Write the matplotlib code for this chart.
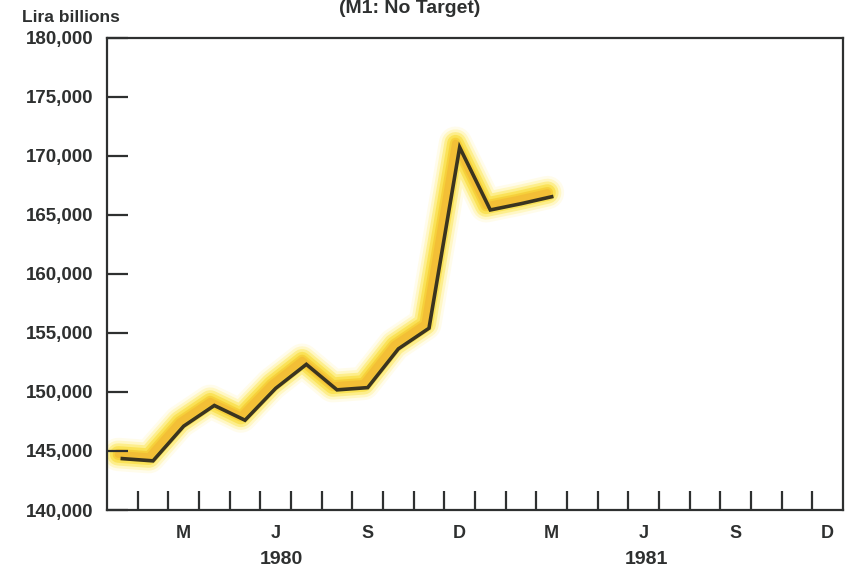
import numpy as np
import matplotlib
matplotlib.use("Agg")
import matplotlib.pyplot as plt
from matplotlib.transforms import offset_copy

plt.rcParams['font.family'] = ['Liberation Sans', 'DejaVu Sans']

# ---- data ----
months = ["Jan 1980", "Feb 1980", "Mar 1980", "Apr 1980", "May 1980", "Jun 1980",
          "Jul 1980", "Aug 1980", "Sep 1980", "Oct 1980", "Nov 1980", "Dec 1980",
          "Jan 1981", "Feb 1981", "Mar 1981"]
m1_values = [144350, 144160, 147100, 148850, 147600, 150300,
             152330, 150170, 150360, 153640, 155390, 170700,
             165400, 165930, 166520]
y_ticks = [140000, 145000, 150000, 155000, 160000, 165000, 170000, 175000, 180000]
quarter_labels = ["M", "J", "S", "D", "M", "J", "S", "D"]
quarter_month_index = [2, 5, 8, 11, 14, 17, 20, 23]
year_labels = ["1980", "1981"]
year_label_pos = [5.7, 17.6]
n_months_axis = 24

TXT = "#2e3030"
fig = plt.figure(figsize=(8.47, 5.72), dpi=100)
ax = fig.add_axes([107/847, 1 - 510/572, (843 - 107)/847, (510 - 37.5)/572])

x = np.arange(len(m1_values)) + 0.5

# soft highlighter glow (shifted slightly up-left like the marker stroke)
glow_tr = offset_copy(ax.transData, fig=fig, x=-3, y=3, units='points')
for lw, col, a in [(24, "#fff4b0", 0.25), (20, "#ffec70", 0.30), (16, "#fbe030", 0.38),
                   (12, "#f8d418", 0.45), (8, "#f4c020", 0.50), (5, "#f0ac30", 0.45)]:
    ax.plot(x, m1_values, color=col, lw=lw, alpha=a, solid_capstyle='round',
            solid_joinstyle='round', transform=glow_tr, zorder=1)
# ink line
ax.plot(x, m1_values, color="#3a3420", lw=2.6, solid_joinstyle='miter', zorder=5)

ax.set_xlim(0, n_months_axis)
ax.set_ylim(140000, 180000)

for s in ax.spines.values():
    s.set_color(TXT)
    s.set_linewidth(1.6)

ax.set_yticks(y_ticks)
ax.set_yticklabels([f"{v:,}" for v in y_ticks], fontsize=13.5, fontweight='bold', color=TXT)
ax.tick_params(axis='y', direction='in', length=15, width=1.6, color=TXT, pad=10)

# month boundary ticks (major, no labels); quarter labels at month centres (minor)
ax.set_xticks(np.arange(1, n_months_axis))
ax.set_xticklabels([])
ax.tick_params(axis='x', which='major', direction='in', length=14, width=1.6, color=TXT)
ax.set_xticks(np.array(quarter_month_index) + 0.5, minor=True)
ax.set_xticklabels(quarter_labels, minor=True, fontsize=13, fontweight='bold', color=TXT)
ax.tick_params(axis='x', which='minor', length=0, pad=11)

for lab, pos in zip(year_labels, year_label_pos):
    ax.text(pos, -0.105, lab, transform=ax.get_xaxis_transform(), ha='center', va='center',
            fontsize=14, fontweight='bold', color=TXT)

fig.text(22/847, 1 - 17/572, "Lira billions", ha='left', va='center', fontsize=12.5,
         fontweight='bold', color=TXT)
fig.text(410/847, 1 - 13/572, "(M1: No Target)", ha='center', va='baseline', fontsize=14,
         fontweight='bold', color=TXT)

fig.savefig("out.png", dpi=100)
